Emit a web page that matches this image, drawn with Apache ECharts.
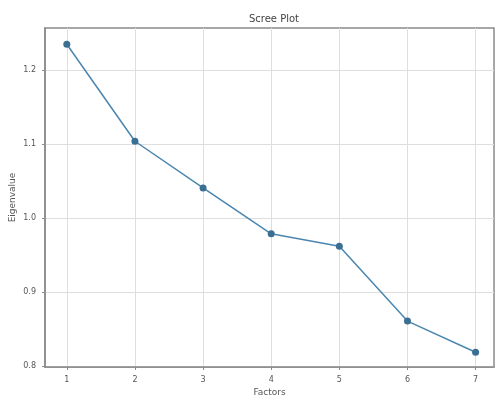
<!DOCTYPE html>
<html>
<head>
<meta charset="utf-8">
<script src="https://cdn.jsdelivr.net/npm/echarts@6/dist/echarts.min.js"></script>
<style>
  html, body { margin: 0; padding: 0; background: #fff; }
  #chart { width: 496px; height: 396px; }
</style>
</head>
<body>
<div id="chart"></div>
<script>
// scree plot data
const factors = [1, 2, 3, 4, 5, 6, 7];
const eigenvalues = [1.235, 1.104, 1.041, 0.979, 0.962, 0.861, 0.819];
const xTicks = [1, 2, 3, 4, 5, 6, 7];
const yTicks = [0.8, 0.9, 1.0, 1.1, 1.2];

const chart = echarts.init(document.getElementById('chart'));
const axisColor = '#8a8a8a';
const gridColor = '#dedede';
const textColor = '#555';
const font = 'DejaVu Sans';

chart.setOption({
  animation: false,
  title: {
    text: 'Scree Plot',
    left: 269, top: 9, textAlign: 'center',
    textStyle: { fontFamily: font, fontSize: 10, fontWeight: 'normal', color: '#444' },
  },
  grid: {
    left: 45, right: 2, top: 28, bottom: 29,
    outerBoundsMode: 'none',
    show: true, borderColor: axisColor, borderWidth: 1.5,
  },
  xAxis: {
    type: 'value',
    min: 0.68, max: 7.27,
    name: 'Factors', nameLocation: 'middle', nameGap: 21, nameMoveOverlap: false,
    nameTextStyle: { fontFamily: font, fontSize: 9, color: textColor },
    axisLine: { show: true, lineStyle: { color: axisColor, width: 1.5 } },
    axisTick: { show: true, customValues: xTicks, length: 3, lineStyle: { color: axisColor } },
    axisLabel: { customValues: xTicks, fontFamily: font, fontSize: 8, color: textColor, margin: 9 },
    splitLine: { show: true, lineStyle: { color: gridColor } },
  },
  yAxis: {
    type: 'value',
    min: 0.799, max: 1.257,
    name: 'Eigenvalue', nameLocation: 'middle', nameGap: 28, nameRotate: 90, nameMoveOverlap: false,
    nameTextStyle: { fontFamily: font, fontSize: 9, color: textColor },
    axisLine: { show: true, lineStyle: { color: axisColor, width: 1.5 } },
    axisTick: { show: true, customValues: yTicks, length: 3, lineStyle: { color: axisColor } },
    axisLabel: {
      customValues: yTicks, fontFamily: font, fontSize: 8, color: textColor, margin: 9,
      formatter: (v) => v.toFixed(1),
    },
    splitLine: { show: true, lineStyle: { color: gridColor } },
  },
  series: [{
    type: 'line',
    data: factors.map((f, i) => [f, eigenvalues[i]]),
    symbol: 'circle',
    symbolSize: 7,
    itemStyle: { color: '#3a6f93' },
    lineStyle: { color: '#4a86b0', width: 1.5 },
  }],
});
</script>
</body>
</html>
